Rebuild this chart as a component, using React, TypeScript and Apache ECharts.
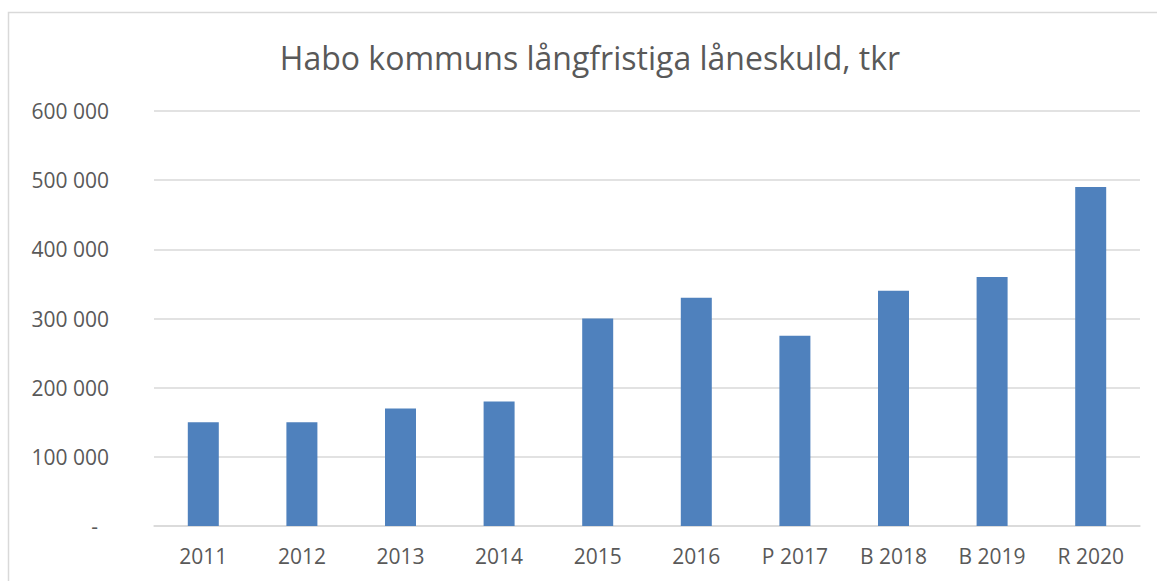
import React, { useEffect, useRef } from "react";
import * as echarts from "echarts";

const categories = ["2011", "2012", "2013", "2014", "2015", "2016", "P 2017", "B 2018", "B 2019", "R 2020"];
const values = [150000, 150000, 170000, 180000, 300000, 330000, 275000, 340000, 360000, 490000];
const titleText = "Habo kommuns långfristiga låneskuld, tkr";

function fmt(v: number): string {
  if (v === 0) return "{z|-}";
  return String(v).replace(/\B(?=(\d{3})+(?!\d))/g, " ");
}

export default function App() {
  const ref = useRef<HTMLDivElement>(null);
  useEffect(() => {
    if (!ref.current) return;
    const chart = echarts.init(ref.current, null, { renderer: "svg" });
    chart.setOption({
      animation: false,
      backgroundColor: "#ffffff",
      textStyle: { fontFamily: "Open Sans" },
      graphic: [
        {
          type: "rect",
          shape: { x: 8.5, y: 12.5, width: 1300, height: 700 },
          style: { fill: "none", stroke: "#d9d9d9", lineWidth: 1.5 },
          silent: true,
        },
        {
          type: "text",
          x: 590,
          y: 57,
          style: {
            text: titleText,
            fontSize: 32,
            fontFamily: "Open Sans",
            fill: "#595959",
            align: "center",
            verticalAlign: "middle",
          },
        },
      ],
      grid: { left: 154, right: 17, top: 111, bottom: 55 },
      xAxis: {
        type: "category",
        data: categories,
        axisTick: { show: false },
        axisLine: { lineStyle: { color: "#d9d9d9", width: 1.5 } },
        axisLabel: { color: "#595959", fontSize: 21, margin: 19, fontFamily: "Open Sans" },
      },
      yAxis: {
        type: "value",
        min: 0,
        max: 600000,
        interval: 100000,
        axisLine: { show: false },
        axisTick: { show: false },
        splitLine: { lineStyle: { color: "#d9d9d9", width: 1.5 } },
        axisLabel: {
          color: "#595959",
          fontSize: 21,
          margin: 45,
          fontFamily: "Open Sans",
          formatter: fmt,
          rich: { z: { fontSize: 21, color: "#595959", padding: [0, 11, 0, 0], fontFamily: "Open Sans" } },
        },
      },
      series: [
        {
          type: "bar",
          data: values,
          barWidth: 31,
          itemStyle: { color: "#4F81BD" },
        },
      ],
    });
    return () => chart.dispose();
  }, []);
  return <div ref={ref} style={{ position: "fixed", left: 0, top: 0, width: 1157, height: 581 }} />;
}
